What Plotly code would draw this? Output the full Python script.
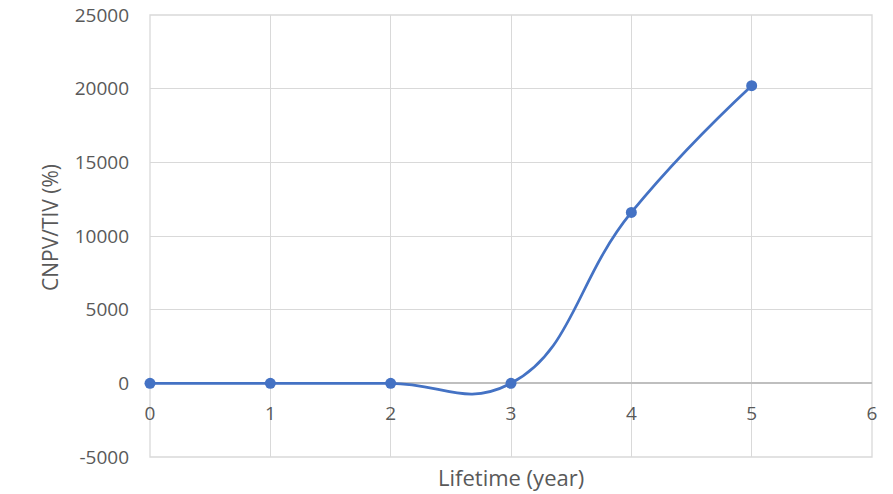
import plotly.graph_objects as go

# Lifetime (years) and cumulative NPV relative to total initial investment (%)
lifetime_years = [0, 1, 2, 3, 4, 5]
cnpv_tiv_pct = [0, 0, 0, 0, 11600, 20200]

x_tick_values = [0, 1, 2, 3, 4, 5, 6]
y_tick_values = [-5000, 0, 5000, 10000, 15000, 20000, 25000]

X_RANGE = [0, 6]
Y_RANGE = [-5000, 25000]

LINE_BLUE = "#4472C4"
TEXT_GREY = "#595959"
GRID_GREY = "#d9d9d9"
FONT = "Open Sans, Liberation Sans, sans-serif"

fig = go.Figure()
fig.add_trace(go.Scatter(
    x=lifetime_years,
    y=cnpv_tiv_pct,
    mode="lines+markers",
    line=dict(color=LINE_BLUE, width=2.75, shape="spline", smoothing=1.3),
    marker=dict(color=LINE_BLUE, size=11),
    showlegend=False,
    cliponaxis=False,
))

# x axis crosses at y = 0: place it at that fraction of the plot height
zero_frac = (0 - Y_RANGE[0]) / (Y_RANGE[1] - Y_RANGE[0])

fig.update_layout(
    width=893,
    height=494,
    margin=dict(l=150, r=21, t=15, b=37),
    paper_bgcolor="white",
    plot_bgcolor="white",
    font=dict(family=FONT, size=18, color=TEXT_GREY),
    xaxis=dict(
        range=X_RANGE,
        tickvals=x_tick_values,
        ticktext=[str(v) for v in x_tick_values],
        showgrid=True,
        gridcolor=GRID_GREY,
        gridwidth=1.3,
        zeroline=False,
        showline=False,
        anchor="free",
        position=zero_frac,
        ticks="",
        ticklabelstandoff=17,
        tickfont=dict(size=19, color=TEXT_GREY),
        automargin=False,
    ),
    yaxis=dict(
        range=Y_RANGE,
        tickvals=y_tick_values,
        ticktext=[str(v) for v in y_tick_values],
        showgrid=True,
        gridcolor=GRID_GREY,
        gridwidth=1.3,
        zeroline=True,
        zerolinecolor="#bfbfbf",
        zerolinewidth=1.6,
        showline=False,
        ticks="",
        ticklabelstandoff=20,
        tickfont=dict(size=19, color=TEXT_GREY),
        domain=[0, 1],
        automargin=False,
    ),
    shapes=[
        # plot-area frame in grid colour
        dict(
            type="rect", xref="paper", yref="paper",
            x0=0, x1=1, y0=0, y1=1,
            line=dict(color=GRID_GREY, width=1.3),
            layer="below",
        ),
    ],
    annotations=[
        dict(
            text="Lifetime (year)",
            xref="x", yref="paper",
            x=3, y=0, yshift=-20,
            xanchor="center", yanchor="middle",
            showarrow=False,
            font=dict(size=22, color=TEXT_GREY, family=FONT),
        ),
        dict(
            text="CNPV/TIV (%)",
            xref="paper", yref="paper",
            x=0, xshift=-100,
            y=(457 - 228) / (457 - 15),
            xanchor="center", yanchor="middle",
            textangle=-90,
            showarrow=False,
            font=dict(size=21, color=TEXT_GREY, family=FONT),
        ),
    ],
)

fig.write_html("out.html")
